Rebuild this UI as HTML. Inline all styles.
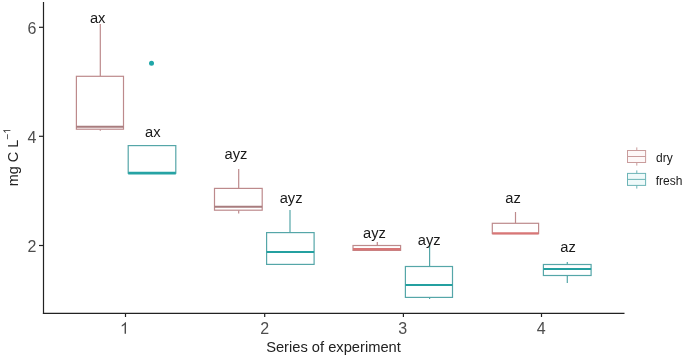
<!DOCTYPE html>
<html><head><meta charset="utf-8">
<style>
html,body{margin:0;padding:0;background:#fff;width:685px;height:358px;overflow:hidden}
svg{display:block;will-change:transform}
text{font-family:"Liberation Sans",sans-serif}
</style></head><body>
<svg width="685" height="358" viewBox="0 0 685 358">
<rect width="685" height="358" fill="#fff"/>
<!-- axes -->
<g stroke="#222" stroke-width="1.2" fill="none">
<line x1="43.5" y1="2" x2="43.5" y2="313.9"/>
<line x1="42.9" y1="313.3" x2="624.5" y2="313.3"/>
<line x1="39" y1="27.3" x2="43.5" y2="27.3"/>
<line x1="39" y1="136.3" x2="43.5" y2="136.3"/>
<line x1="39" y1="245.5" x2="43.5" y2="245.5"/>
<line x1="125.5" y1="313.3" x2="125.5" y2="317"/>
<line x1="264.7" y1="313.3" x2="264.7" y2="317"/>
<line x1="403.4" y1="313.3" x2="403.4" y2="317"/>
<line x1="541.5" y1="313.3" x2="541.5" y2="317"/>
</g>
<g fill="#4d4d4d" font-size="16" text-anchor="end">
<text x="36.4" y="33.8">6</text>
<text x="36.4" y="142.8">4</text>
<text x="36.4" y="252">2</text>
</g>
<g fill="#4d4d4d" font-size="16" text-anchor="middle">

<text x="264.7" y="333.5">2</text>
<text x="402.7" y="333.5">3</text>
<text x="541.1" y="333.5">4</text>
</g>
<text x="333.5" y="352" fill="#222" font-size="14.7" text-anchor="middle">Series of experiment</text>
<g transform="translate(17.9,186.3) rotate(-90)" fill="#222">
<text x="0" y="0" font-size="14.5">mg C L<tspan font-size="10" dy="-7.2">−</tspan></text>
<path transform="translate(51.53,-7.5) scale(0.00488,-0.00488)" d="M763 0L763 1147C719 1105 661 1063 589 1021C517 979 452 947 395 926L395 1100C498 1148 588 1207 665 1276C742 1345 797 1412 829 1476L945 1476L945 0Z"/>
</g>
<path fill="#4d4d4d" transform="translate(118.63,333.8) scale(0.0078125,-0.0078125)" d="M763 0L763 1147C719 1105 661 1063 589 1021C517 979 452 947 395 926L395 1100C498 1148 588 1207 665 1276C742 1345 797 1412 829 1476L945 1476L945 0Z"/>

<!-- dry boxes -->
<g stroke="#bd8a8c" stroke-width="1.2" fill="#fff">
<!-- 1 dry -->
<line x1="100.3" y1="24" x2="100.3" y2="76.3"/>
<line x1="100.3" y1="129.2" x2="100.3" y2="130.7"/>
<rect x="76.4" y="76.3" width="47.1" height="52.9"/>
<line x1="76.4" y1="126.7" x2="123.5" y2="126.7" stroke-width="2" stroke="#a87c7e"/>
<!-- 2 dry -->
<line x1="238.7" y1="169" x2="238.7" y2="188.4"/>
<line x1="238.7" y1="210.2" x2="238.7" y2="213.5"/>
<rect x="214.5" y="188.4" width="47.7" height="21.8"/>
<line x1="214.5" y1="206.8" x2="262.2" y2="206.8" stroke-width="2" stroke="#a87c7e"/>
<!-- 3 dry -->
<line x1="377.3" y1="242.1" x2="377.3" y2="245.5"/>
<rect x="353" y="245.5" width="47.6" height="4.9"/>
<line x1="353" y1="249.2" x2="400.6" y2="249.2" stroke-width="2.4" stroke="#d87676"/>
<!-- 4 dry -->
<line x1="515.5" y1="212" x2="515.5" y2="223.3"/>
<rect x="492.3" y="223.3" width="46.3" height="10.3"/>
<line x1="492.3" y1="233.3" x2="538.6" y2="233.3" stroke-width="2.2" stroke="#d87676"/>
</g>
<!-- fresh boxes -->
<g stroke="#55a6a8" stroke-width="1.2" fill="#fff">
<!-- 1 fresh -->
<rect x="128.2" y="145.6" width="47.6" height="27.6"/>
<line x1="128.2" y1="173.2" x2="175.8" y2="173.2" stroke-width="2.8" stroke="#26a3a4"/>
<!-- 2 fresh -->
<line x1="290" y1="210.1" x2="290" y2="232.6"/>
<rect x="266.6" y="232.6" width="47.5" height="31.8"/>
<line x1="266.6" y1="251.9" x2="314.1" y2="251.9" stroke-width="2" stroke="#24a0a0"/>
<!-- 3 fresh -->
<line x1="429.6" y1="244" x2="429.6" y2="266.5"/>
<line x1="429.6" y1="297.4" x2="429.6" y2="299"/>
<rect x="405.4" y="266.5" width="47.1" height="30.9"/>
<line x1="405.4" y1="284.9" x2="452.5" y2="284.9" stroke-width="2" stroke="#24a0a0"/>
<!-- 4 fresh -->
<line x1="567.3" y1="262" x2="567.3" y2="264.5"/>
<line x1="567.3" y1="275.5" x2="567.3" y2="282.9"/>
<rect x="543.4" y="264.5" width="47.7" height="11"/>
<line x1="543.4" y1="269" x2="591.1" y2="269" stroke-width="2" stroke="#24a0a0"/>
</g>
<circle cx="151.5" cy="63.2" r="2.5" fill="#1fa6a8"/>

<!-- letters -->
<g fill="#1a1a1a" font-size="14.7" text-anchor="middle">
<text x="97.7" y="22.7">ax</text>
<text x="152.8" y="136.7">ax</text>
<text x="236" y="159">ayz</text>
<text x="291.1" y="202.7">ayz</text>
<text x="374.5" y="238.1">ayz</text>
<text x="429.3" y="244.5">ayz</text>
<text x="513" y="202.6">az</text>
<text x="568" y="251.8">az</text>
</g>

<!-- legend -->
<g stroke="#c99c9c" stroke-width="1" fill="#fdf8f8">
<line x1="636.8" y1="147.4" x2="636.8" y2="165.6"/>
<rect x="627.5" y="150.5" width="18.1" height="12"/>
<line x1="627.5" y1="156.5" x2="645.6" y2="156.5"/>
</g>
<g stroke="#6cb4b6" stroke-width="1" fill="#effafa">
<line x1="636.8" y1="170.4" x2="636.8" y2="188.6"/>
<rect x="627.5" y="173.4" width="18.1" height="12"/>
<line x1="627.5" y1="179.4" x2="645.6" y2="179.4"/>
</g>
<g fill="#1a1a1a" font-size="12">
<text x="656" y="162">dry</text>
<text x="655.7" y="185">fresh</text>
</g>
</svg>
</body></html>
